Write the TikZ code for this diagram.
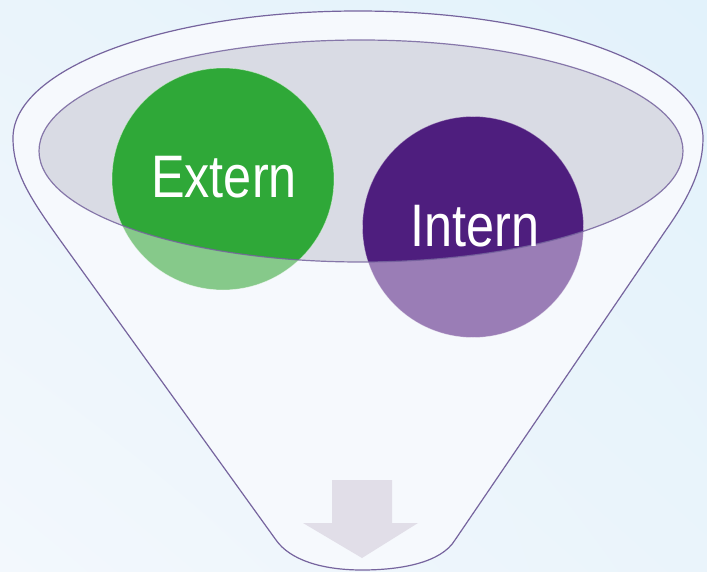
\documentclass[tikz,border=0pt]{standalone}
\usepackage{fontspec}
\setmainfont{Liberation Sans}
\usetikzlibrary{shapes.geometric,shadings}
\definecolor{bgA}{HTML}{E2F2FB}
\definecolor{bgB}{HTML}{F3F8FD}
\definecolor{bgC}{HTML}{EAF4FB}
\definecolor{funnelfill}{HTML}{F6F9FD}
\definecolor{rimfill}{HTML}{D9DBE4}
\definecolor{edge}{HTML}{76649E}
\definecolor{greenS}{HTML}{2FA838}
\definecolor{greenL}{HTML}{86C98A}
\definecolor{purpS}{HTML}{4E1E7E}
\definecolor{purpL}{HTML}{9A7DB6}
\definecolor{arrowc}{HTML}{E1DEE8}
\tikzset{
  outline/.style={draw=edge, line width=1.2pt},
  lbl/.style={text=white, font=\fontsize{60}{60}\selectfont, anchor=base, inner sep=0pt},
}
\begin{document}
\begin{tikzpicture}[x=1pt,y=-1pt]
\useasboundingbox (0,0) rectangle (707,572);
% background
\shade[upper right=bgA, upper left=bgC, lower left=bgB, lower right=bgC] (0,0) rectangle (707,572);
% funnel body
\path[fill=funnelfill, outline]
  (276,540) -- (60,240) .. controls (30,198) and (13,172) .. (13,138)
  arc[start angle=180, end angle=0, x radius=345pt, y radius=127pt]
  .. controls (703,168) and (690,196) .. (666,230)
  -- (455,540) .. controls (441,563) and (400,570) .. (362,570)
  .. controls (322,570) and (290,560) .. (276,540) -- cycle;
% rim
\fill[rimfill] (361,151) ellipse[x radius=322pt, y radius=111pt];
% light circles
\node (extl) [circle, fill=greenL, minimum size=222pt, inner sep=0pt] at (223,179) {};
\node (intl) [circle, fill=purpL, minimum size=221pt, inner sep=0pt] at (473,227) {};
% solid parts inside rim
\begin{scope}
  \clip (361,151) ellipse[x radius=322pt, y radius=111pt];
  \fill[greenS] (extl.center) circle[radius=111pt];
  \fill[purpS] (intl.center) circle[radius=110.5pt];
\end{scope}
\draw[white, opacity=0.5, line width=0.6pt] (extl.center) circle[radius=111pt];
\draw[white, opacity=0.4, line width=0.6pt] (intl.center) circle[radius=110.5pt];
\draw[outline, draw opacity=0.85] (361,151) ellipse[x radius=322pt, y radius=111pt];
% labels
\node (ext) [lbl] at (224,198) {\scalebox{0.84}[1]{Extern}};
\node (int) [lbl] at (475,247) {\scalebox{0.84}[1]{Intern}};
% arrow
\fill[arrowc] (332,480) -- (392,480) -- (392,523) -- (418,523) -- (362,558) -- (303,523) -- (332,523) -- cycle;
\end{tikzpicture}
\end{document}
